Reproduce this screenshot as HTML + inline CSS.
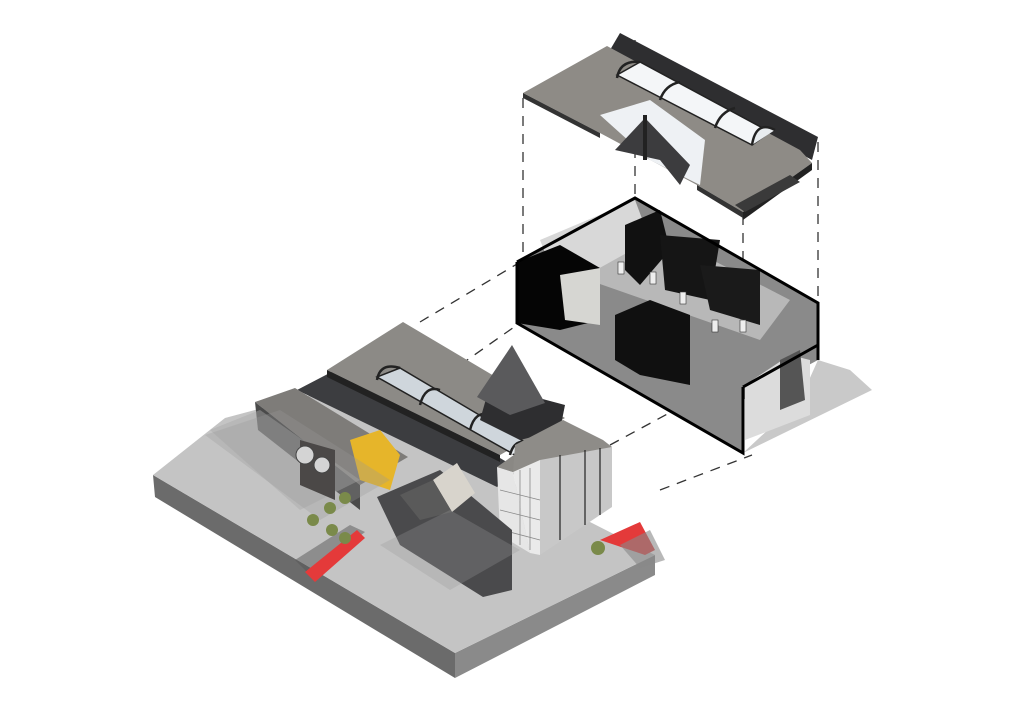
<!DOCTYPE html>
<html><head><meta charset="utf-8"><style>
html,body{margin:0;padding:0;background:#fff;width:1023px;height:723px;overflow:hidden}
svg{display:block}
</style></head><body>
<svg width="1023" height="723" viewBox="0 0 1023 723" xmlns="http://www.w3.org/2000/svg">
<rect width="1023" height="723" fill="#fff"/>
<!-- dashed connectors -->
<g stroke="#333" stroke-width="1.3" stroke-dasharray="10,8" fill="none">
<line x1="523" y1="98" x2="523" y2="262"/>
<line x1="818" y1="142" x2="818" y2="300"/>
<line x1="635" y1="40" x2="635" y2="198"/>
<line x1="743" y1="215" x2="743" y2="385"/>
<line x1="420" y1="322" x2="517" y2="264"/>
<line x1="460" y1="365" x2="517" y2="325"/>
<line x1="610" y1="445" x2="745" y2="372"/>
<line x1="660" y1="490" x2="752" y2="455"/>
</g>

<!-- TOP ROOF -->
<polygon points="620,33 818,137 812,160 610,50" fill="#2e2e30"/>
<polygon points="523,93 607,46 800,150 812,163 743,212 697,185 600,133" fill="#8e8b86"/>
<polygon points="600,115 650,100 705,140 700,185 650,160" fill="#eef1f4"/>
<polygon points="523,93 600,133 600,138 523,98" fill="#333"/>
<polygon points="697,185 743,212 743,218 697,190" fill="#333"/>
<polygon points="743,212 812,163 812,170 743,220" fill="#222"/>
<polygon points="735,205 790,175 800,182 745,212" fill="#3a3a3a"/>
<!-- vault -->
<polygon points="617,75 640,62 770,132 752,145" fill="#f4f6f8" stroke="#222" stroke-width="1.5"/>
<path d="M617,78 Q620,60 640,62" fill="none" stroke="#222" stroke-width="2.5"/>
<path d="M660,100 Q665,85 680,82" fill="none" stroke="#222" stroke-width="2.5"/>
<path d="M715,128 Q720,112 735,108" fill="none" stroke="#222" stroke-width="2.5"/>
<path d="M752,145 Q756,120 775,130" fill="#e8ecef" stroke="#222" stroke-width="2.5"/>
<!-- cone piece -->
<polygon points="645,118 615,150 660,160 680,185 690,165" fill="#3c3c3e"/>
<rect x="643" y="115" width="4" height="45" fill="#222"/>

<!-- MIDDLE BOX -->
<polygon points="743,453 872,390 850,370 818,360 800,400" fill="#c9c9c9"/>
<polygon points="517,262 635,198 818,303 818,360 743,400 743,453 517,323" fill="#8a8a8a"/>
<polygon points="560,270 635,220 790,300 760,340" fill="#b8b8b8"/>
<polygon points="540,240 635,200 650,240 560,290" fill="#d8d8d8"/>
<polygon points="625,225 660,210 670,250 640,285 625,270" fill="#111"/>
<polygon points="660,235 720,240 710,300 665,290" fill="#151515"/>
<polygon points="700,265 760,270 760,325 710,310" fill="#1a1a1a"/>
<polygon points="615,315 650,300 690,315 690,385 640,375 615,360" fill="#101010"/>
<polygon points="517,262 560,245 600,268 600,320 560,330 517,323" fill="#050505"/>
<polygon points="560,275 600,268 600,325 565,320" fill="#d6d6d2"/>
<polygon points="745,385 790,355 810,360 810,415 745,440" fill="#dcdcdc"/>
<polygon points="780,360 800,350 805,400 780,410" fill="#555"/>
<g stroke="#000" stroke-width="3" fill="none">
<polyline points="517,262 635,198 818,303 818,360"/>
<polyline points="517,262 517,323 743,453 743,387"/>
<line x1="743" y1="387" x2="818" y2="345"/>
</g>
<g fill="#eee" stroke="#333" stroke-width="0.6">
<rect x="618" y="262" width="6" height="12"/><rect x="650" y="272" width="6" height="12"/><rect x="680" y="292" width="6" height="12"/><rect x="712" y="320" width="6" height="12"/><rect x="740" y="320" width="6" height="12"/>
</g>

<!-- BOTTOM PLATFORM -->
<polygon points="153,475 455,653 455,678 155,497" fill="#6b6b6b"/>
<polygon points="455,653 655,555 655,575 455,678" fill="#8a8a8a"/>
<polygon points="153,475 225,418 330,390 655,555 455,653" fill="#c4c4c4"/>
<!-- dark road -->
<polygon points="297,390 345,365 520,470 497,487" fill="#3c3d40"/>
<!-- long roof -->
<polygon points="327,370 403,322 565,418 500,455" fill="#8c8a86"/>
<polygon points="327,370 500,455 500,462 327,377" fill="#222"/>
<!-- vault -->
<polygon points="377,377 400,368 530,445 515,455" fill="#cfd6dc" stroke="#222" stroke-width="1.5"/>
<path d="M377,380 Q380,362 400,368" fill="none" stroke="#222" stroke-width="2.5"/>
<path d="M420,405 Q425,385 440,390" fill="none" stroke="#222" stroke-width="2.5"/>
<path d="M470,430 Q475,410 490,415" fill="none" stroke="#222" stroke-width="2.5"/>
<path d="M510,455 Q515,435 535,445" fill="#e4e8eb" stroke="#222" stroke-width="2.5"/>
<!-- cone -->
<polygon points="490,385 565,405 560,430 520,440 480,420" fill="#2e2e30"/>
<polygon points="512,345 477,397 510,415 545,403" fill="#5a5a5c"/>
<!-- right block -->
<polygon points="497,467 563,420 612,447 513,472" fill="#8a8884"/>
<polygon points="513,472 612,447 603,440 563,420 515,445" fill="#8e8c88"/>
<polygon points="497,467 513,472 530,553 500,535" fill="#e6e6e6"/>
<polygon points="513,472 540,460 540,555 530,553" fill="#eaeaea"/>
<polygon points="540,460 612,447 612,507 540,555" fill="#c8c8c8"/>
<g stroke="#222" stroke-width="1.2"><line x1="560" y1="455" x2="560" y2="540"/><line x1="585" y1="450" x2="585" y2="525"/><line x1="600" y1="448" x2="600" y2="515"/></g>
<g stroke="#888" stroke-width="0.8"><line x1="520" y1="470" x2="520" y2="545"/><line x1="530" y1="468" x2="530" y2="550"/><line x1="500" y1="490" x2="540" y2="500"/><line x1="500" y1="510" x2="540" y2="520"/><line x1="502" y1="530" x2="540" y2="540"/></g>
<!-- left lower roof -->
<polygon points="255,402 295,388 408,457 360,485" fill="#7e7c79"/>
<polygon points="255,402 360,485 360,510 258,430" fill="#4a4a4a"/>
<polygon points="210,430 260,410 360,480 300,510" fill="#aaa" opacity="0.45"/>
<polygon points="300,440 335,450 335,500 300,485" fill="#2a2624"/>
<circle cx="305" cy="455" r="9" fill="#eee" stroke="#222"/>
<circle cx="322" cy="465" r="8" fill="#eee" stroke="#222"/>
<!-- yellow -->
<polygon points="350,440 380,430 400,455 390,490 360,480" fill="#e6b52a"/>
<!-- diamond + dark block -->
<polygon points="377,497 440,470 512,530 512,590 483,597 400,545" fill="#4a4a4c"/>
<polygon points="433,480 457,463 475,493 452,512" fill="#d8d4cc"/>
<polygon points="400,495 433,480 452,512 420,520" fill="#5a5a5a"/>
<!-- red stairs -->
<polygon points="295,560 350,525 365,532 310,575" fill="#555" opacity="0.5"/>
<polygon points="305,572 357,530 365,538 315,582" fill="#e43a3a"/>
<polygon points="600,540 640,522 655,550 645,555" fill="#e43a3a"/>
<polygon points="620,545 650,530 665,560 640,568" fill="#888" opacity="0.6"/>
<!-- glass canopies -->
<polygon points="205,435 280,410 390,480 320,520" fill="#999" opacity="0.3"/>
<polygon points="380,545 450,510 520,550 450,590" fill="#999" opacity="0.3"/>
<!-- trees -->
<g fill="#7a8a4a"><circle cx="313" cy="520" r="6"/><circle cx="330" cy="508" r="6"/><circle cx="345" cy="498" r="6"/><circle cx="332" cy="530" r="6"/><circle cx="345" cy="538" r="6"/><circle cx="598" cy="548" r="7"/></g>
</svg>
</body></html>
